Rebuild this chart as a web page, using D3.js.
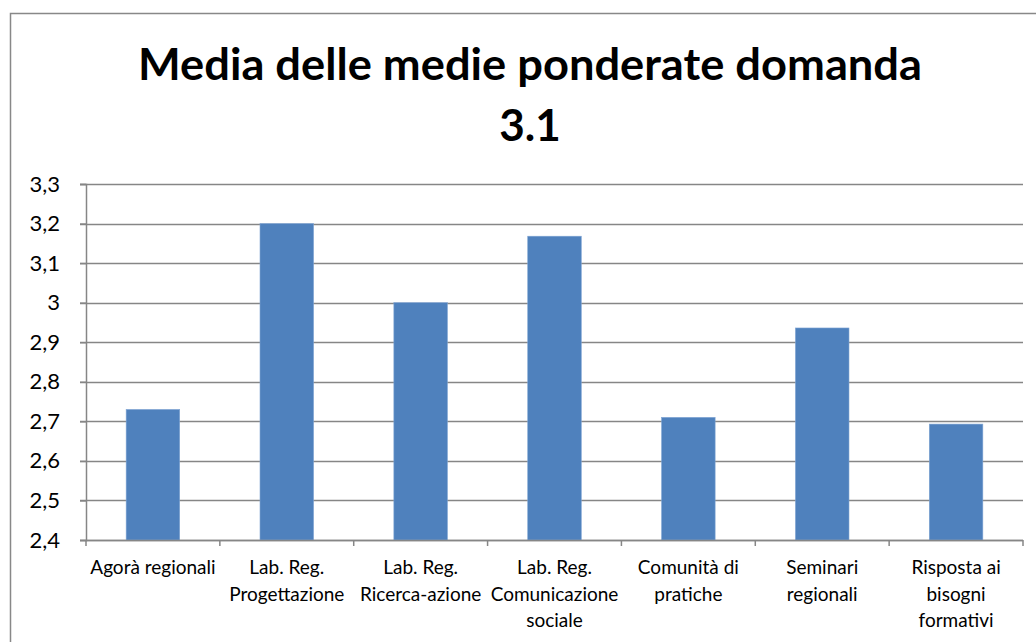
<!DOCTYPE html>
<html>
<head>
<meta charset="utf-8">
<script src="https://cdn.jsdelivr.net/npm/d3@7"></script>
<style>
	body { margin: 0; background: #fff; }
	svg { display: block; }
</style>
</head>
<body>
<svg id="chart" width="1036" height="642"></svg>
<script>
// data
var categories = [
	["Agorà regionali"],
	["Lab. Reg.", "Progettazione"],
	["Lab. Reg.", "Ricerca-azione"],
	["Lab. Reg.", "Comunicazione", "sociale"],
	["Comunità di", "pratiche"],
	["Seminari", "regionali"],
	["Risposta ai", "bisogni", "formativi"]
];
var values = [2.73, 3.2, 3.0, 3.168, 2.71, 2.936, 2.693];
var yTicks = [2.4, 2.5, 2.6, 2.7, 2.8, 2.9, 3.0, 3.1, 3.2, 3.3];
var titleLines = ["Media delle medie ponderate domanda", "3.1"];

(function() {
	var svg = d3.select("#chart");
	var font = "Lato, Open Sans, sans-serif";
	var gridColor = "#868686";

	// outer chart border (runs off the right/bottom edge)
	svg.append("path")
		.attr("d", "M10.5,642 L10.5,13.5 L1036,13.5")
		.attr("fill", "none")
		.attr("stroke", "#888")
		.attr("stroke-width", 1.5);

	var pLeft = 86, pRight = 1023, pTop = 184, pBottom = 540;

	var x = d3.scaleBand()
		.domain(d3.range(values.length))
		.range([pLeft, pRight])
		.paddingInner(0.6)
		.paddingOuter(0.3);

	var band = (pRight - pLeft) / values.length;

	var y = d3.scaleLinear()
		.domain([2.4, 3.3])
		.range([pBottom, pTop]);

	// title
	svg.append("g").selectAll("text")
		.data(titleLines)
		.enter().append("text")
			.attr("x", 530)
			.attr("y", function(d, i) { return 80 + i * 61; })
			.attr("text-anchor", "middle")
			.attr("font-family", font)
			.attr("font-weight", "bold")
			.attr("font-size", 44)
			.attr("fill", "#000")
			.text(function(d) { return d; })
			.each(function(d, i) {
				if (i === 0) {
					d3.select(this).attr("textLength", 784).attr("lengthAdjust", "spacingAndGlyphs");
				}
			});

	// gridlines
	svg.append("g")
		.selectAll("line")
		.data(yTicks)
		.enter().append("line")
			.attr("x1", pLeft - 6)
			.attr("x2", pRight)
			.attr("y1", function(d) { return Math.round(y(d)) + 0.5; })
			.attr("y2", function(d) { return Math.round(y(d)) + 0.5; })
			.attr("stroke", gridColor)
			.attr("stroke-width", 1.5);

	// y axis
	var yAxis = svg.append("g")
		.attr("transform", "translate(" + pLeft + ",0)")
		.call(d3.axisLeft(y).tickValues(yTicks).tickSize(6).tickPadding(20)
			.tickFormat(function(d) { return d3.format(".1~f")(d).replace(".", ","); }));
	yAxis.select(".domain").attr("stroke", gridColor).attr("stroke-width", 1.5);
	yAxis.selectAll(".tick line").attr("stroke", gridColor).attr("stroke-width", 1.5);
	yAxis.selectAll("text")
		.attr("font-family", font)
		.attr("font-size", 22)
		.attr("fill", "#000");

	// bars
	svg.append("g")
		.selectAll("rect")
		.data(values)
		.enter().append("rect")
			.attr("x", function(d, i) { return x(i); })
			.attr("width", x.bandwidth())
			.attr("y", function(d) { return y(d); })
			.attr("height", function(d) { return pBottom - y(d); })
			.attr("fill", "#4F81BD")
			.attr("stroke", "#7EA3D3")
			.attr("stroke-width", 0.6);

	// x axis line and tick marks
	svg.append("line")
		.attr("x1", pLeft).attr("x2", pRight)
		.attr("y1", pBottom + 0.5).attr("y2", pBottom + 0.5)
		.attr("stroke", gridColor).attr("stroke-width", 1.5);

	svg.append("g")
		.selectAll("line")
		.data(d3.range(values.length + 1))
		.enter().append("line")
			.attr("x1", function(d) { return pLeft + d * band; })
			.attr("x2", function(d) { return pLeft + d * band; })
			.attr("y1", pBottom)
			.attr("y2", pBottom + 6)
			.attr("stroke", gridColor)
			.attr("stroke-width", 1.5);

	// category labels
	var labels = svg.append("g")
		.selectAll("text")
		.data(categories)
		.enter().append("text")
			.attr("text-anchor", "middle")
			.attr("font-family", font)
			.attr("font-size", 19)
			.attr("fill", "#000");

	labels.each(function(lines, i) {
		var cx = x(i) + x.bandwidth() / 2;
		d3.select(this).selectAll("tspan")
			.data(lines)
			.enter().append("tspan")
				.attr("x", cx)
				.attr("y", function(d, j) { return 574 + j * 26.5; })
				.text(function(d) { return d; });
	});
})();
</script>
</body>
</html>
